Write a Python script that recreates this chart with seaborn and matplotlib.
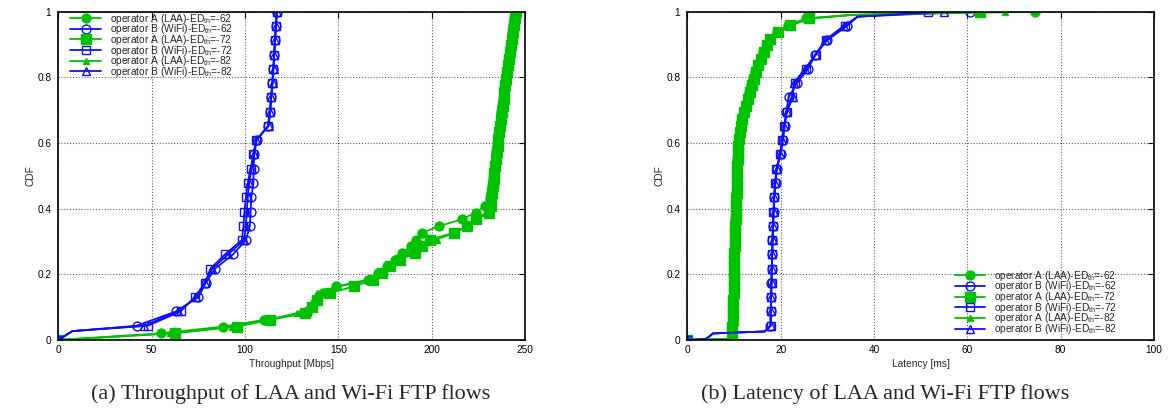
import numpy as np
import matplotlib
matplotlib.use("Agg")
import matplotlib.pyplot as plt
from matplotlib.lines import Line2D
import seaborn as sns

# ---------------------------------------------------------------------------
# Data: sample quantiles of each CDF, taken at evenly spaced CDF levels
# ---------------------------------------------------------------------------
LAA_LEVELS = np.linspace(0.0, 1.0, 50)
WIFI_LEVELS = np.linspace(0.0, 1.0, 24)

# Throughput [Mbps]
thr_laa_62 = [0, 55, 88.4, 110, 133, 136, 138.5, 142, 149, 166, 171, 176.3, 180.4, 184,
              188.9, 191.5, 195, 204, 216, 223.5, 228.5, 231.5, 232.0, 232.4, 232.9, 233.3,
              233.8, 234.2, 234.7, 235.1, 235.6, 236.0, 236.5, 236.9, 237.4, 237.8, 238.3,
              238.8, 239.2, 239.7, 240.2, 240.7, 241.2, 241.8, 242.3, 242.8, 243.3, 243.8,
              244.3, 244.8]
thr_laa_72 = [0, 62.5, 95.6, 113.4, 132.2, 136.1, 138.5, 145.4, 158.5, 168.8, 173.3, 177.8,
              183.1, 191.2, 194.7, 199.0, 212.0, 219.0, 224.0, 230.5, 231.6, 232.0, 232.4,
              232.8, 233.2, 233.6, 234.0, 234.4, 234.8, 235.3, 235.8, 236.3, 236.7, 237.2,
              237.6, 238.1, 238.5, 239.0, 239.4, 239.9, 240.3, 240.8, 241.4, 241.9, 242.5,
              243.0, 243.5, 244.0, 244.5, 245.0]
thr_laa_82 = [0, 60, 93, 112, 127.7, 134, 136.5, 138.5, 150, 168, 172.5, 177, 181, 187, 193,
              203, 212, 219.5, 224.5, 229, 231.8, 232.2, 232.6, 233.0, 233.4, 233.8, 234.2,
              234.6, 235.0, 235.5, 236.0, 236.5, 236.9, 237.4, 237.8, 238.3, 238.7, 239.2,
              239.6, 240.1, 240.5, 241.0, 241.6, 242.1, 242.7, 243.2, 243.7, 244.2, 244.7,
              245.2]
thr_wifi_62 = [0, 42, 63, 75, 79, 84, 93.6, 100.5, 102.6, 103, 103.4, 104.5, 104.6, 105,
               106.3, 112.3, 113.3, 114, 114.6, 115.1, 115.6, 116.0, 116.5, 117]
thr_wifi_72 = [0, 48, 65.5, 73, 78.6, 81.5, 89.3, 98.3, 99.2, 99.7, 100.5, 101.5, 103, 104.5,
               106, 112.5, 113.4, 114, 114.7, 115.2, 115.6, 116.1, 116.5, 117]
thr_wifi_82 = [0, 46, 64, 74, 78.5, 82.5, 91, 99.5, 100.5, 101, 101.5, 102.2, 103.6, 104.6,
               106, 112.7, 113.5, 114.1, 114.8, 115.3, 115.7, 116.2, 116.6, 117.2]
thr_wifi_tail = [(7.5, 0.027)]
thr_laa_tail = []

# Latency [ms]
lat_laa_62 = [0, 9.55, 9.6, 9.7, 9.75, 9.8, 9.85, 9.9, 9.9, 9.95, 10.0, 10.05, 10.05, 10.1,
              10.15, 10.2, 10.2, 10.25, 10.3, 10.35, 10.4, 10.45, 10.5, 10.55, 10.6, 10.65,
              10.7, 10.75, 10.8, 10.9, 11.0, 11.2, 11.4, 11.7, 12.1, 12.5, 12.9, 13.3, 13.7,
              14.1, 14.6, 15.1, 15.7, 16.3, 17.0, 17.7, 19.2, 21.5, 25.5, 74.4]
lat_laa_72 = [0, 9.6, 9.65, 9.7, 9.75, 9.8, 9.85, 9.9, 9.95, 10.0, 10.0, 10.05, 10.1, 10.1,
              10.15, 10.2, 10.25, 10.3, 10.35, 10.4, 10.45, 10.5, 10.55, 10.6, 10.65, 10.7,
              10.75, 10.8, 10.85, 10.9, 11.0, 11.2, 11.5, 11.8, 12.2, 12.6, 13.0, 13.4, 13.8,
              14.2, 14.7, 15.2, 15.8, 16.5, 17.1, 17.8, 19.5, 22.0, 26.0, 62.7]
lat_laa_82 = [0, 9.6, 9.65, 9.7, 9.75, 9.8, 9.85, 9.9, 9.95, 10.0, 10.05, 10.05, 10.1, 10.15,
              10.2, 10.2, 10.25, 10.3, 10.35, 10.4, 10.45, 10.5, 10.55, 10.6, 10.65, 10.7,
              10.75, 10.8, 10.85, 10.95, 11.1, 11.3, 11.6, 11.9, 12.3, 12.7, 13.1, 13.5, 13.9,
              14.3, 14.8, 15.3, 15.9, 16.6, 17.2, 18.0, 19.8, 22.4, 26.5, 68.0]
lat_wifi_62 = [0, 17.8, 17.85, 17.95, 18.0, 18.1, 18.15, 18.25, 18.35, 18.5, 18.65, 18.9,
               19.2, 20.0, 20.5, 20.9, 21.2, 21.7, 23.5, 25.9, 27.4, 30.0, 34.2, 60.5]
lat_wifi_72 = [0, 17.9, 17.9, 17.95, 18.05, 18.1, 18.2, 18.25, 18.35, 18.45, 18.6, 18.85,
               19.1, 19.85, 20.35, 20.8, 21.3, 22.35, 23.06, 25.5, 27.6, 29.7, 33.8, 51.5]
lat_wifi_82 = [0, 17.85, 17.9, 17.95, 18.05, 18.1, 18.2, 18.3, 18.4, 18.5, 18.6, 18.8, 19.15,
               19.9, 20.3, 20.7, 21.4, 22.6, 22.8, 25.2, 27.5, 29.5, 33.5, 55.0]
lat_wifi_tail = [(4.0, 0.003), (5.5, 0.02), (16.6, 0.026), (36.5, 0.985)]
lat_laa_tail = [(9.3, 0.003), (35.0, 0.99)]

LABELS = [
    "operator A (LAA)-ED$_{\\mathrm{th}}$=-62",
    "operator B (WiFi)-ED$_{\\mathrm{th}}$=-62",
    "operator A (LAA)-ED$_{\\mathrm{th}}$=-72",
    "operator B (WiFi)-ED$_{\\mathrm{th}}$=-72",
    "operator A (LAA)-ED$_{\\mathrm{th}}$=-82",
    "operator B (WiFi)-ED$_{\\mathrm{th}}$=-82",
]

GREEN = "#00c000"
BLUE = "#1010f0"

# (color, marker, size, filled)
STYLES = [
    (GREEN, "o", 6.4, True),
    (BLUE, "o", 6.4, False),
    (GREEN, "s", 7.0, True),
    (BLUE, "s", 6.4, False),
    (GREEN, "^", 5.0, True),
    (BLUE, "^", 6.0, False),
]

# ---------------------------------------------------------------------------
sns.set_theme(style="white")
plt.rcParams["font.family"] = ["Liberation Sans", "DejaVu Sans"]
plt.rcParams["mathtext.fontset"] = "custom"
plt.rcParams["mathtext.rm"] = "Liberation Sans"
plt.rcParams["mathtext.it"] = "Liberation Sans:italic"
plt.rcParams["mathtext.bf"] = "Liberation Sans:bold"

FS = 7.3

fig = plt.figure(figsize=(11.68, 4.09), dpi=100)
W, H = 1168, 409
ax_thr = fig.add_axes([58.3 / W, 1 - 340 / H, (525 - 58.3) / W, (340 - 11.7) / H])
ax_lat = fig.add_axes([687.3 / W, 1 - 340 / H, (1154 - 687.3) / W, (340 - 11.7) / H])


def cdf_curve(values, levels, extra):
    pts = [(x, y, True) for x, y in zip(values, levels)]
    pts += [(x, y, False) for x, y in extra]
    pts.sort(key=lambda p: (p[1], p[0]))
    xs = [p[0] for p in pts]
    ys = [p[1] for p in pts]
    marks = [i for i, p in enumerate(pts) if p[2]]
    return xs, ys, marks


def draw_panel(ax, series, laa_tail, wifi_tail):
    for (vals, is_laa), (color, marker, ms, filled) in zip(series, STYLES):
        levels = LAA_LEVELS if is_laa else WIFI_LEVELS
        tail = laa_tail if is_laa else wifi_tail
        xs, ys, marks = cdf_curve(vals, levels, tail)
        sns.lineplot(
            x=xs, y=ys, ax=ax, sort=False, estimator=None, legend=False,
            color=color, lw=1.3, marker=marker, markevery=marks, markersize=ms,
            markerfacecolor=color if filled else "none",
            markeredgecolor=color, markeredgewidth=1.0,
        )


draw_panel(ax_thr,
           [(thr_laa_62, True), (thr_wifi_62, False), (thr_laa_72, True),
            (thr_wifi_72, False), (thr_laa_82, True), (thr_wifi_82, False)],
           thr_laa_tail, thr_wifi_tail)
draw_panel(ax_lat,
           [(lat_laa_62, True), (lat_wifi_62, False), (lat_laa_72, True),
            (lat_wifi_72, False), (lat_laa_82, True), (lat_wifi_82, False)],
           lat_laa_tail, lat_wifi_tail)

handles = [
    Line2D([], [], color=c, lw=1.3, marker=m, markersize=ms,
           markerfacecolor=c if f else "none", markeredgecolor=c, markeredgewidth=1.0)
    for (c, m, ms, f) in STYLES
]


def style_axes(ax, xmax, xstep, xlabel):
    ax.set_xlim(0, xmax)
    ax.set_ylim(0, 1)
    ax.set_xticks(np.arange(0, xmax + 1e-9, xstep))
    ax.set_yticks([0, 0.2, 0.4, 0.6, 0.8, 1.0])
    ax.set_yticklabels(["0", "0.2", "0.4", "0.6", "0.8", "1"])
    ax.set_xticklabels([f"{int(v)}" for v in np.arange(0, xmax + 1e-9, xstep)])
    ax.grid(True, color="#606060", lw=0.8, ls=(0, (1, 1.6)))
    ax.tick_params(direction="in", length=4.5, width=0.8, top=True, right=True,
                   labelsize=FS, colors="black")
    ax.tick_params(axis="x", pad=3.5)
    ax.tick_params(axis="y", pad=5)
    for s in ax.spines.values():
        s.set_color("black")
        s.set_linewidth(1.2)
    ax.set_xlabel(xlabel, fontsize=FS, labelpad=3)
    ax.set_ylabel("CDF", fontsize=FS, labelpad=1.5)


style_axes(ax_thr, 250, 50, "Throughput [Mbps]")
style_axes(ax_lat, 100, 20, "Latency [ms]")

LEG_KW = dict(frameon=False, fontsize=FS, handlelength=3.0, handletextpad=0.9,
              labelspacing=-0.33, borderpad=0, borderaxespad=0)
ax_thr.legend(handles, LABELS, loc="upper left", bbox_to_anchor=(12 / 466.7, 1.0), **LEG_KW)
ax_lat.legend(handles, LABELS, loc="lower right", bbox_to_anchor=(1 - 37 / 466.7, 0.012),
              **LEG_KW)

fig.text(291 / W, 1 - 394 / H, "(a) Throughput of LAA and Wi-Fi FTP flows",
         ha="center", va="center", fontsize=15.9, family="Liberation Serif")
fig.text(885 / W, 1 - 394 / H, "(b) Latency of LAA and Wi-Fi FTP flows",
         ha="center", va="center", fontsize=15.9, family="Liberation Serif")

fig.savefig("out.png", dpi=100)
